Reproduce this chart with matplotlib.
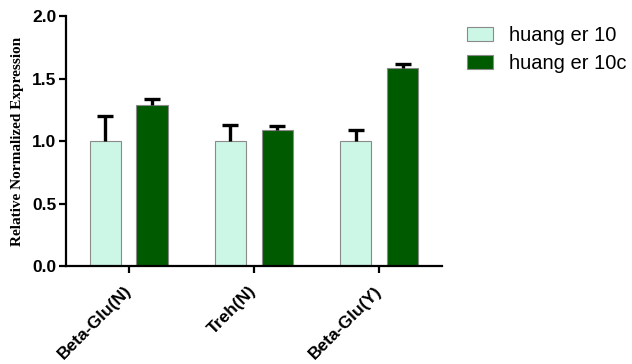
import matplotlib
matplotlib.use("Agg")
import matplotlib.pyplot as plt
import numpy as np

categories = ["Beta-Glu(N)", "Treh(N)", "Beta-Glu(Y)"]
series_names = ["huang er 10", "huang er 10c"]
values_10 = [1.0, 1.0, 1.0]
errors_10 = [0.205, 0.13, 0.09]
values_10c = [1.29, 1.09, 1.585]
errors_10c = [0.045, 0.035, 0.03]
yticks = [0.0, 0.5, 1.0, 1.5, 2.0]

fig = plt.figure(figsize=(6.32, 3.64), dpi=100)
ax = fig.add_axes([0.1044, 0.268, 0.5946, 0.688])

x = np.arange(len(categories))
w = 0.25
off = 0.187
c_light = "#CCF6E6"
c_dark = "#005A00"

ax.bar(x - off, values_10, w, color=c_light, edgecolor="#8a8a8a", linewidth=0.8,
       label=series_names[0], zorder=2)
ax.bar(x + off, values_10c, w, color=c_dark, edgecolor="#8a8a8a", linewidth=0.8,
       label=series_names[1], zorder=2)
for xs, vals, errs in ((x - off, values_10, errors_10), (x + off, values_10c, errors_10c)):
    _, caps, _ = ax.errorbar(xs, vals, yerr=[np.zeros(len(vals)), errs], fmt="none",
                             ecolor="black", elinewidth=2.4, capsize=5.8,
                             capthick=2.4, zorder=3)
    caps[0].set_visible(False)

ax.set_xlim(-0.5, 2.5)
ax.set_ylim(0, 2.0)
ax.set_yticks(yticks)
ax.set_yticklabels([f"{v:.1f}" for v in yticks], fontsize=12.5, fontweight="bold",
                   family="Liberation Sans")
ax.set_xticks(x)
ax.set_xticklabels(categories, rotation=45, ha="right", va="center",
                   rotation_mode="anchor",
                   fontsize=12.5, fontweight="bold", family="Liberation Sans")
ax.tick_params(axis="both", width=1.6, length=5, direction="out")
ax.tick_params(axis="x", pad=11)
ax.tick_params(axis="y", pad=2)
ax.spines["top"].set_visible(False)
ax.spines["right"].set_visible(False)
for s in ("left", "bottom"):
    ax.spines[s].set_linewidth(1.6)
ax.set_ylabel("Relative Normalized Expression", family="Liberation Serif",
              fontweight="bold", fontsize=11)
ax.yaxis.set_label_coords(-0.112, 0.5)

leg = fig.legend(loc="upper left", bbox_to_anchor=(0.739, 0.9285), frameon=False,
                 prop={"family": "Liberation Sans", "size": 14.5},
                 borderpad=0, borderaxespad=0, handlelength=1.3, handleheight=0.65,
                 labelspacing=0.45, handletextpad=0.8)
for p in leg.get_patches():
    p.set_edgecolor("#8a8a8a")

fig.savefig("out.png", dpi=100)
